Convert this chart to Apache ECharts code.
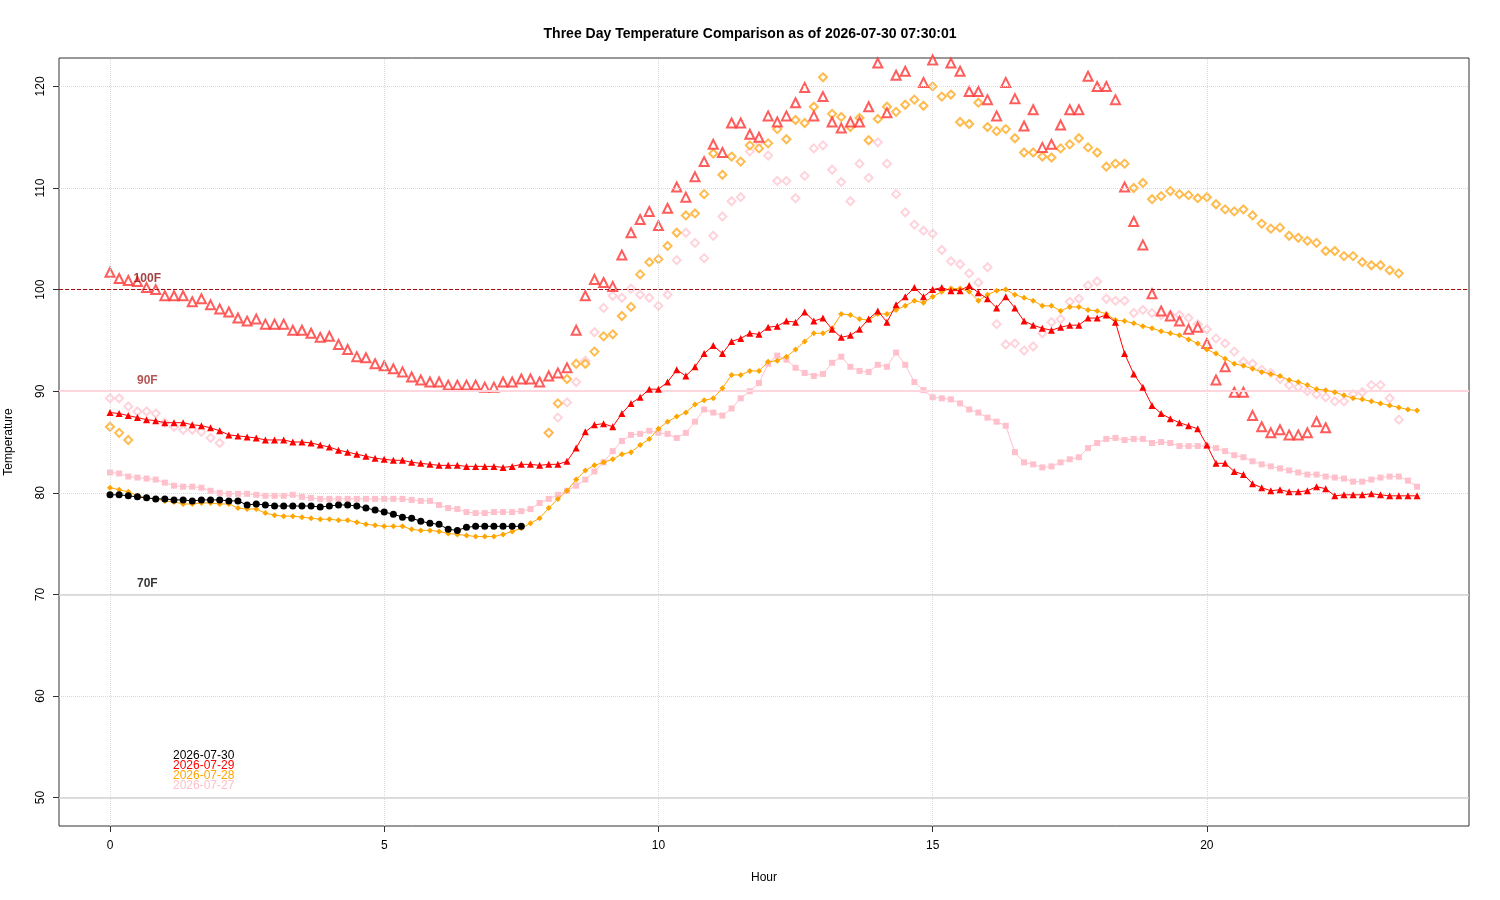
<!DOCTYPE html>
<html>
<head>
<meta charset="utf-8">
<script src="https://cdn.jsdelivr.net/npm/echarts@6/dist/echarts.min.js"></script>
<style>html,body{margin:0;padding:0;background:#fff}#main{width:1500px;height:900px}</style>
</head>
<body>
<div id="main"></div>
<script>
// readings every 10 minutes (index / 6 = hour)
var day30 = [79.8,79.8,79.7,79.6,79.5,79.4,79.4,79.3,79.3,79.2,79.3,79.3,79.3,79.2,79.2,78.8,78.9,78.8,78.7,78.7,78.7,78.7,78.7,78.6,78.7,78.8,78.8,78.7,78.5,78.3,78.1,77.9,77.6,77.5,77.2,77.0,76.9,76.4,76.3,76.6,76.7,76.7,76.7,76.7,76.7,76.7];

var day29 = [87.9,87.8,87.6,87.4,87.2,87.1,86.9,86.9,86.9,86.7,86.6,86.4,86.1,85.7,85.6,85.5,85.4,85.2,85.2,85.2,85.0,85.0,84.9,84.7,84.5,84.2,84.0,83.8,83.6,83.4,83.3,83.2,83.2,83.0,82.9,82.8,82.7,82.7,82.7,82.6,82.6,82.6,82.6,82.5,82.6,
  82.8,82.8,82.7,82.8,82.8,83.1,84.4,86.0,86.7,86.8,86.5,87.8,88.8,89.4,90.2,90.2,90.9,92.1,91.5,92.4,93.7,94.5,93.7,94.9,95.2,95.7,95.6,96.3,96.4,96.9,96.8,97.8,96.9,97.2,96.1,95.3,95.5,96.1,97.1,97.9,96.8,98.5,99.3,100.2,99.3,100.0,100.2,99.9,99.9,100.4,99.7,99.1,
  98.2,99.3,98.2,96.9,96.5,96.2,96.0,96.3,96.5,96.5,97.2,97.2,97.5,96.8,93.7,91.7,90.4,88.6,87.8,87.3,86.9,86.6,86.3,84.7,82.9,82.9,82.1,81.8,80.9,80.5,80.2,80.3,80.1,80.1,80.2,80.6,80.4,79.7,79.8,79.8,79.8,79.9,79.8,79.7,79.7,79.7,79.7];
var day29Hi = [101.7,101.1,100.9,100.8,100.2,100.0,99.4,99.4,99.4,98.8,99.1,98.5,98.1,97.8,97.2,96.9,97.1,96.6,96.6,96.6,96.0,96.0,95.7,95.3,95.4,94.6,94.1,93.4,93.3,92.7,92.5,92.2,91.9,91.4,91.1,90.9,90.9,90.6,90.6,90.6,90.6,90.4,90.4,90.9,90.9,
  91.2,91.2,90.9,91.5,91.8,92.3,96.0,99.4,101.0,100.7,100.3,103.4,105.6,106.9,107.7,106.3,108.0,110.1,109.1,111.1,112.6,114.3,113.5,116.4,116.4,115.3,115.0,117.1,116.5,117.1,118.4,119.9,117.1,119.0,116.5,115.9,116.5,116.5,118.0,122.3,117.4,121.1,121.5,123.5,120.4,122.6,123.3,122.3,121.5,119.5,119.5,118.7,117.1,
  120.4,118.8,116.1,117.7,114.0,114.3,116.2,117.7,117.7,121.0,120.0,120.0,118.7,110.1,106.7,104.4,99.6,97.9,97.4,96.9,96.1,96.3,94.7,91.1,92.4,89.9,89.9,87.6,86.5,85.9,86.2,85.7,85.7,85.9,87.0,86.4,
  null,null,null,null,null,null,null,null,null,null];

var day28 = [80.5,80.3,80.1,79.7,79.5,79.4,79.2,79.1,78.9,78.9,79.0,79.0,78.9,78.9,78.5,78.4,78.4,78.0,77.8,77.7,77.7,77.6,77.5,77.4,77.4,77.3,77.3,77.1,76.9,76.8,76.7,76.7,76.7,76.4,76.3,76.3,76.2,76.0,75.9,75.8,75.7,75.7,75.7,75.9,76.2,
  76.5,77.0,77.5,78.5,79.4,80.2,81.3,82.2,82.7,83.0,83.3,83.8,84.0,84.7,85.3,86.3,87.0,87.5,87.9,88.7,89.1,89.3,90.3,91.6,91.6,92.0,92.0,92.9,93.0,93.4,94.1,94.9,95.7,95.7,96.2,97.6,97.5,97.1,97.0,97.6,97.6,98.0,98.4,98.9,98.7,99.3,99.8,100.1,100.1,99.8,98.9,99.5,99.9,
  100.0,99.5,99.2,98.9,98.4,98.4,97.9,98.3,98.3,98.0,97.9,97.6,97.0,96.9,96.7,96.4,96.2,95.9,95.7,95.5,95.1,94.7,94.1,93.7,93.2,92.7,92.5,92.2,91.9,91.7,91.5,91.1,90.9,90.6,90.2,90.1,89.9,89.6,89.3,89.2,89.0,88.8,88.6,88.4,88.2,88.1];
var day28Hi = [86.5,85.9,85.2,
  null,null,null,null,null,null,null,null,null,null,null,null,null,null,null,null,null,null,null,null,null,null,null,null,null,null,null,null,null,null,null,null,null,null,null,null,null,null,null,null,null,null,null,null,null,
  85.9,88.8,91.2,92.7,92.7,93.9,95.4,95.6,97.4,98.3,101.5,102.7,103.0,104.3,105.6,107.3,107.5,109.4,113.4,111.3,113.1,112.6,114.2,113.9,114.4,115.8,114.8,116.7,116.4,118.0,120.9,117.3,117.0,116.0,116.9,114.7,116.8,118.0,117.5,118.2,118.7,118.1,120.0,119.0,119.2,116.5,116.3,118.4,
  116.0,115.6,115.8,114.9,113.5,113.5,113.1,113.0,113.9,114.3,114.9,114.0,113.5,112.1,112.4,112.4,110.0,110.5,108.9,109.2,109.7,109.4,109.3,109.0,109.1,108.4,107.9,107.7,107.9,107.3,106.5,106.0,106.1,105.3,105.1,104.8,104.6,103.8,103.8,103.3,103.3,102.7,102.4,102.4,101.9,101.6];

var day27 = [82.0,81.9,81.6,81.5,81.4,81.3,81.0,80.7,80.6,80.6,80.5,80.2,80.0,79.9,79.9,79.9,79.8,79.7,79.7,79.7,79.8,79.6,79.5,79.4,79.4,79.4,79.4,79.4,79.4,79.4,79.4,79.4,79.4,79.3,79.2,79.2,78.8,78.5,78.4,78.1,78.0,78.0,78.1,78.1,78.1,
  78.2,78.4,79.0,79.4,79.8,80.2,80.7,81.3,82.1,83.0,84.1,85.1,85.7,85.8,86.1,85.9,85.8,85.4,85.9,87.0,88.2,87.9,87.6,88.3,89.3,90.0,90.8,92.7,93.5,93.1,92.3,91.8,91.5,91.7,92.8,93.4,92.4,92.0,91.9,92.6,92.4,93.8,92.6,90.9,90.1,89.4,89.3,89.2,88.8,88.2,87.9,87.4,87.0,
  86.6,84.0,83.0,82.8,82.5,82.6,83.0,83.3,83.5,84.4,84.9,85.3,85.4,85.2,85.3,85.3,84.9,85.0,84.9,84.6,84.6,84.6,84.6,84.4,84.1,83.7,83.5,83.1,82.8,82.6,82.4,82.2,82.0,81.8,81.8,81.6,81.5,81.4,81.1,81.1,81.3,81.5,81.6,81.6,81.2,80.6];
var day27Hi = [89.3,89.3,88.5,88.0,88.0,87.8,86.9,86.5,86.2,86.2,86.0,85.4,84.9,
  null,null,null,null,null,null,null,null,null,null,null,null,null,null,null,null,null,null,null,null,null,null,null,null,null,null,null,null,null,null,null,null,null,null,null,
  85.9,87.4,88.9,90.9,93.0,95.8,98.2,99.4,99.2,100.1,99.5,99.2,98.4,99.5,102.9,105.6,104.6,103.1,105.3,107.2,108.7,109.1,113.6,114.5,113.2,110.7,110.7,109.0,111.2,113.9,114.2,111.8,110.6,108.7,112.4,111.0,114.5,112.4,109.4,107.6,106.4,105.8,105.5,103.9,102.8,102.5,101.6,100.7,
  102.2,96.6,94.6,94.7,94.0,94.4,95.7,96.8,97.1,98.8,99.1,100.4,100.8,99.1,98.9,98.9,97.7,98.0,97.7,97.5,97.5,97.5,97.2,96.6,96.1,95.2,94.7,93.9,92.9,92.7,92.1,91.8,91.2,90.6,90.4,90.0,89.7,89.4,89.0,89.0,89.7,89.9,90.6,90.6,89.3,87.2];

var dayNames = ['2026-07-30','2026-07-29','2026-07-28','2026-07-27'];
var dayColors = ['#000000','#ff0000','#ffa500','#ffc0cb'];
var hourTicks = [0,5,10,15,20];
var tempTicks = [50,60,70,80,90,100,110,120];
var refTemps = [100,90,70,50];
var refLabels = ['100F','90F','','70F'];

function pts(arr){ return arr.map(function(v,i){ return v==null ? [i/6,null] : [i/6,v]; }); }

var chart = echarts.init(document.getElementById('main'));
var tf = 'Liberation Sans, Arial, sans-serif';

function avgLine(name, arr, color, symbol, size, z){
  return { name:name, type:'line', data:pts(arr), symbol:symbol, symbolSize:size, showSymbol:true,
    lineStyle:{color:color,width:1}, itemStyle:{color:color}, connectNulls:false, z:z, animation:false };
}
function hiPts(name, arr, color, symbol, size){
  return { name:name, type:'scatter', data:pts(arr).filter(function(p){return p[1]!=null;}), symbol:symbol, symbolSize:size,
    itemStyle:{color:color, borderWidth:1.2}, clip:true, z:3, animation:false };
}

var gridLines = hourTicks.map(function(h){ return {xAxis:h}; })
  .concat(tempTicks.map(function(t){ return {yAxis:t}; }));

var option = {
  backgroundColor:'#fff',
  title:{ text:'Three Day Temperature Comparison as of 2026-07-30 07:30:01', left:'center', top:22,
    textStyle:{fontFamily:tf, fontSize:14, fontWeight:'bold', color:'#000'} },
  grid:{ left:59, right:31, top:58, bottom:74, show:true, borderColor:'#333', borderWidth:1, backgroundColor:'transparent', outerBoundsMode:'none' },
  xAxis:{ type:'value', min:-0.93, max:24.78, name:'Hour', nameLocation:'middle', nameGap:46,
    nameTextStyle:{fontFamily:tf, fontSize:12, color:'#000'},
    axisLine:{show:false, onZero:false}, splitLine:{show:false},
    axisTick:{show:true, length:6, lineStyle:{color:'#333'}, customValues:hourTicks},
    axisLabel:{fontFamily:tf, fontSize:12, color:'#000', margin:14, customValues:hourTicks} },
  yAxis:{ type:'value', min:47.2, max:122.8, name:'Temperature', nameLocation:'middle', nameGap:44,
    nameTextStyle:{fontFamily:tf, fontSize:12, color:'#000'},
    axisLine:{show:false, onZero:false}, splitLine:{show:false},
    axisTick:{show:true, length:6, lineStyle:{color:'#333'}, customValues:tempTicks},
    axisLabel:{fontFamily:tf, fontSize:12, color:'#000', rotate:90, margin:12, customValues:tempTicks} },
  graphic: dayNames.map(function(n,k){
    return { type:'text', left:173, top:750 + k*10, style:{ text:n, fill:dayColors[k], font:'12px ' + tf } };
  }),
  series:[
    { type:'line', data:[], silent:true, animation:false, z:1,
      markLine:{ silent:true, symbol:'none', animation:false, label:{show:false},
        lineStyle:{color:'#d9d9d9', type:'dotted', width:1}, data:gridLines } },
    { type:'line', data:[], silent:true, animation:false, z:2,
      markLine:{ silent:true, symbol:'none', animation:false, label:{show:false}, data:[
        {yAxis:refTemps[0], lineStyle:{color:'#a01010', type:'dashed', width:1}},
        {yAxis:refTemps[1], lineStyle:{color:'#ffd6dd', type:'solid', width:2}},
        {yAxis:refTemps[2], lineStyle:{color:'#d3d3d3', type:'solid', width:1.5}},
        {yAxis:refTemps[3], lineStyle:{color:'#d3d3d3', type:'solid', width:1.5}} ] } },
    { type:'scatter', symbolSize:0, silent:true, animation:false, z:10,
      data:[[0.68,refTemps[0]+1.1,refLabels[0],'#8b1010'],[0.68,refTemps[1]+1.0,refLabels[1],'#a52a2a'],[0.68,refTemps[2]+1.1,refLabels[3],'#000']],
      label:{ show:true, position:'inside', fontFamily:tf, fontSize:12, fontWeight:'bold',
        formatter:function(p){ return p.data[2]; } },
      itemStyle:{color:'transparent'} },
    hiPts('2026-07-27 hi', day27Hi, '#ffc8d2', 'emptyDiamond', 8),
    hiPts('2026-07-28 hi', day28Hi, '#ffaa22', 'emptyDiamond', 8),
    hiPts('2026-07-29 hi', day29Hi, '#ff3333', 'emptyTriangle', 9),
    avgLine('2026-07-27', day27, '#ffc0cb', 'rect', 6, 4),
    avgLine('2026-07-28', day28, '#ffa500', 'diamond', 6, 5),
    avgLine('2026-07-29', day29, '#ff0000', 'triangle', 7, 6),
    avgLine('2026-07-30', day30, '#000000', 'circle', 7, 7)
  ]
};
// label colors per point
option.series[2].data = option.series[2].data.map(function(d){
  return { value:[d[0],d[1]], name:d[2], label:{color:d[3], formatter:d[2]} };
});
chart.setOption(option);
</script>
</body>
</html>
